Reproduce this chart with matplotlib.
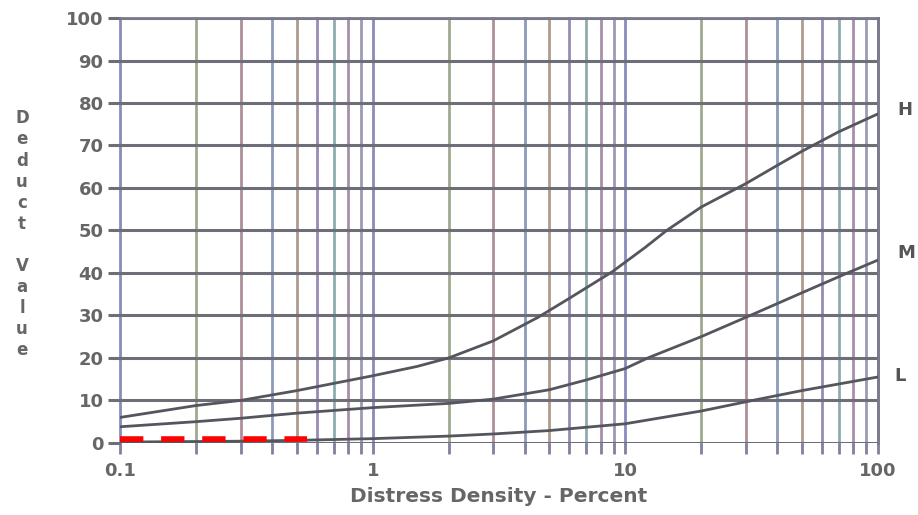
import matplotlib
matplotlib.use("Agg")
import matplotlib.pyplot as plt
from matplotlib.ticker import FixedLocator, NullFormatter, FixedFormatter

# curve values (distress density %, deduct value)
x_H = [0.1, 0.2, 0.3, 0.5, 0.7, 1, 1.5, 2, 3, 4.5, 6, 8.9, 12, 14.6, 20, 30, 40, 50, 70, 100]
y_H = [6, 8.8, 10, 12.3, 14, 15.8, 18, 20, 24, 29.5, 34, 40.3, 46, 50, 55.5, 61, 65.3, 68.6, 73.2, 77.4]
x_M = [0.1, 0.2, 0.3, 0.5, 1, 2, 3, 5, 7, 10, 12.3, 20, 31.3, 50, 76, 100]
y_M = [3.8, 5, 5.8, 7, 8.3, 9.3, 10.3, 12.5, 14.8, 17.5, 20, 25, 30, 35.3, 40, 43]
x_L = [0.1, 0.3, 0.5, 1, 2, 3, 5, 10, 20, 32, 50, 100]
y_L = [0.2, 0.4, 0.6, 1, 1.6, 2.1, 2.9, 4.5, 7.5, 10, 12.3, 15.5]
curve_names = ["H", "M", "L"]

# red dashed marker line
x_red = [0.1, 0.55]
y_red = [1, 1]

x_major = [0.1, 1, 10, 100]
x_major_labels = ["0.1", "1", "10", "100"]
x_grid = [m * d for d in (0.1, 1, 10) for m in range(1, 10)] + [100]
y_ticks = list(range(0, 101, 10))

grid_colors = ['#7676b2', '#8e9a7a', '#a07c86', '#7888b0', '#a08a7a',
               '#8676a8', '#7a9ea0', '#9a7a9c', '#8a8aa6']

fig = plt.figure(figsize=(9.18, 5.15), dpi=100)
ax = fig.add_axes([0.131, 0.14, 0.825, 0.825])
ax.set_xscale('log')
ax.set_xlim(0.1, 100)
ax.set_ylim(0, 100)

for i, xv in enumerate(x_grid):
    ax.axvline(xv, color=grid_colors[i % len(grid_colors)], lw=2.0, alpha=0.85,
               zorder=1, clip_on=False)
for yv in y_ticks:
    ax.axhline(yv, color='#6e6e78', lw=2.2, zorder=2)

lc = '#55555e'
ax.plot(x_H, y_H, color=lc, lw=2.0, zorder=3)
ax.plot(x_M, y_M, color=lc, lw=2.0, zorder=3)
ax.plot(x_L, y_L, color=lc, lw=2.0, zorder=3)
ax.plot(x_red, y_red, color='#ff0000', lw=4.0, dashes=(4.2, 3.2), zorder=4)

ends = [(x_H[-1], y_H[-1]), (x_M[-1], y_M[-1]), (x_L[-1], y_L[-1])]
offs = [(14, 3), (14, 5), (12, 1)]
for name, (xe, ye), off in zip(curve_names, ends, offs):
    ax.annotate(name, xy=(xe, ye), xytext=off, textcoords='offset points',
                fontsize=13, fontweight='bold', color='#555555',
                va='center', annotation_clip=False)

ax.xaxis.set_major_locator(FixedLocator(x_major))
ax.xaxis.set_major_formatter(FixedFormatter(x_major_labels))
ax.xaxis.set_minor_locator(FixedLocator(x_grid))
ax.xaxis.set_minor_formatter(NullFormatter())
ax.set_yticks(y_ticks)
ax.tick_params(axis='x', which='both', length=8, width=2, color='#8080a0',
               labelsize=13, labelcolor='#666666', pad=6)
ax.tick_params(axis='y', length=9, width=2.2, color='#6e6e78',
               labelsize=13, labelcolor='#666666', pad=3)
for lab in ax.get_xticklabels() + ax.get_yticklabels():
    lab.set_fontweight('bold')

for side in ('top', 'right'):
    ax.spines[side].set_color('#7a7a8a')
    ax.spines[side].set_linewidth(2)
ax.spines['left'].set_visible(False)
ax.spines['bottom'].set_visible(False)

ax.set_xlabel('Distress Density - Percent', fontsize=14.5, fontweight='bold',
              color='#666666', labelpad=5)
fig.text(0.024, 0.545, "\n".join("Deduct Value"), fontsize=12, fontweight='bold',
         color='#666666', ha='center', va='center', linespacing=1.22)

fig.savefig('out.png', dpi=100)
